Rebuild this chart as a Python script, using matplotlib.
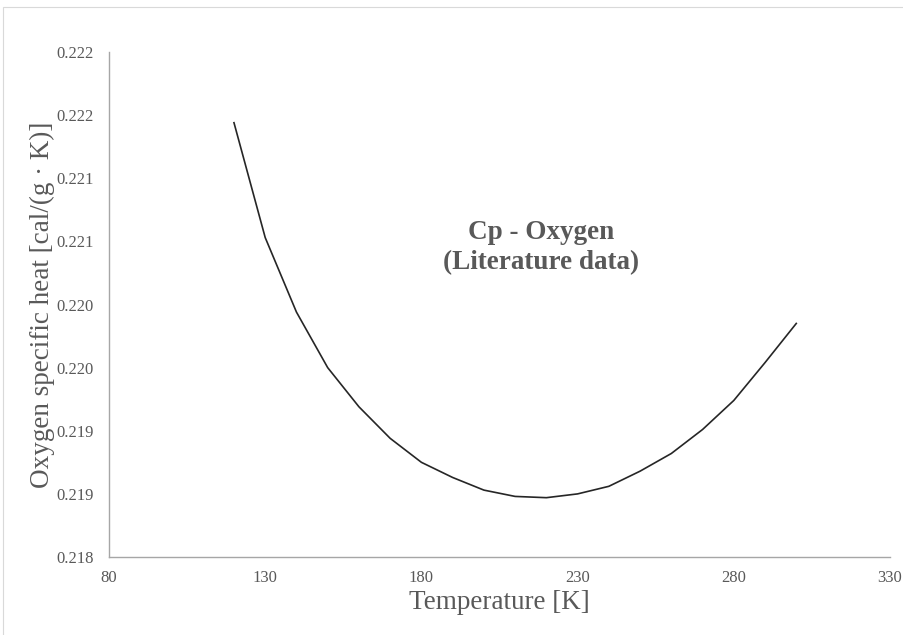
import matplotlib
matplotlib.use("Agg")
import matplotlib.pyplot as plt
from matplotlib.patches import Rectangle

# Literature data: oxygen specific heat vs temperature
temperature = [120, 130, 140, 150, 160, 170, 180, 190, 200, 210,
               220, 230, 240, 250, 260, 270, 280, 290, 300]
cp = [0.22144, 0.22053, 0.21994, 0.21950, 0.21919, 0.21894, 0.21875,
      0.21863, 0.21853, 0.21848, 0.21847, 0.21850, 0.21856, 0.21868,
      0.21882, 0.21901, 0.21924, 0.21954, 0.21985]

x_ticks = [80, 130, 180, 230, 280, 330]
y_ticks = [0.2180, 0.2185, 0.2190, 0.2195, 0.2200, 0.2205, 0.2210, 0.2215, 0.2220]
# Excel-style 3-decimal labels (half rounds up)
y_tick_labels = ["0.218", "0.219", "0.219", "0.220", "0.220",
                 "0.221", "0.221", "0.222", "0.222"]

GREY_TEXT = "#595959"
AXIS_GREY = "#a6a6a6"
SERIF = ["Liberation Serif", "DejaVu Serif"]

fig = plt.figure(figsize=(9.04, 6.35), dpi=100)
ax = fig.add_axes([0.1206, 0.1228, 0.8639, 0.7953])

# faint chart-area border
fig.patches.append(Rectangle((3 / 904, -0.05), 1.0, 1.05 - 7 / 635,
                             transform=fig.transFigure, fill=False,
                             edgecolor="#d9d9d9", linewidth=0.8))

ax.plot(temperature, cp, color="#262626", linewidth=1.2)

ax.set_xlim(80, 330)
ax.set_ylim(0.218, 0.222)
ax.set_xticks(x_ticks)
ax.set_xticklabels([str(t) for t in x_ticks])
ax.set_yticks(y_ticks)
ax.set_yticklabels(y_tick_labels)
ax.tick_params(length=0, labelsize=12, colors=GREY_TEXT)
ax.tick_params(axis="y", pad=11)
ax.tick_params(axis="x", pad=9)
for lab in ax.get_xticklabels() + ax.get_yticklabels():
    lab.set_family(SERIF)

for side in ("top", "right"):
    ax.spines[side].set_visible(False)
for side in ("left", "bottom"):
    ax.spines[side].set_color(AXIS_GREY)
    ax.spines[side].set_linewidth(1.0)

ax.set_xlabel("Temperature [K]", fontsize=19.5, color=GREY_TEXT,
              family=SERIF, labelpad=3)
ax.set_ylabel("Oxygen specific heat [cal/(g · K)]", fontsize=19.5,
              color=GREY_TEXT, family=SERIF, labelpad=1)

ax.text(218.3, 0.22045, "Cp - Oxygen\n(Literature data)", ha="center",
        va="center", fontsize=19.5, fontweight="bold", color=GREY_TEXT,
        family=SERIF, linespacing=1.3)

fig.savefig("out.png", dpi=100)
